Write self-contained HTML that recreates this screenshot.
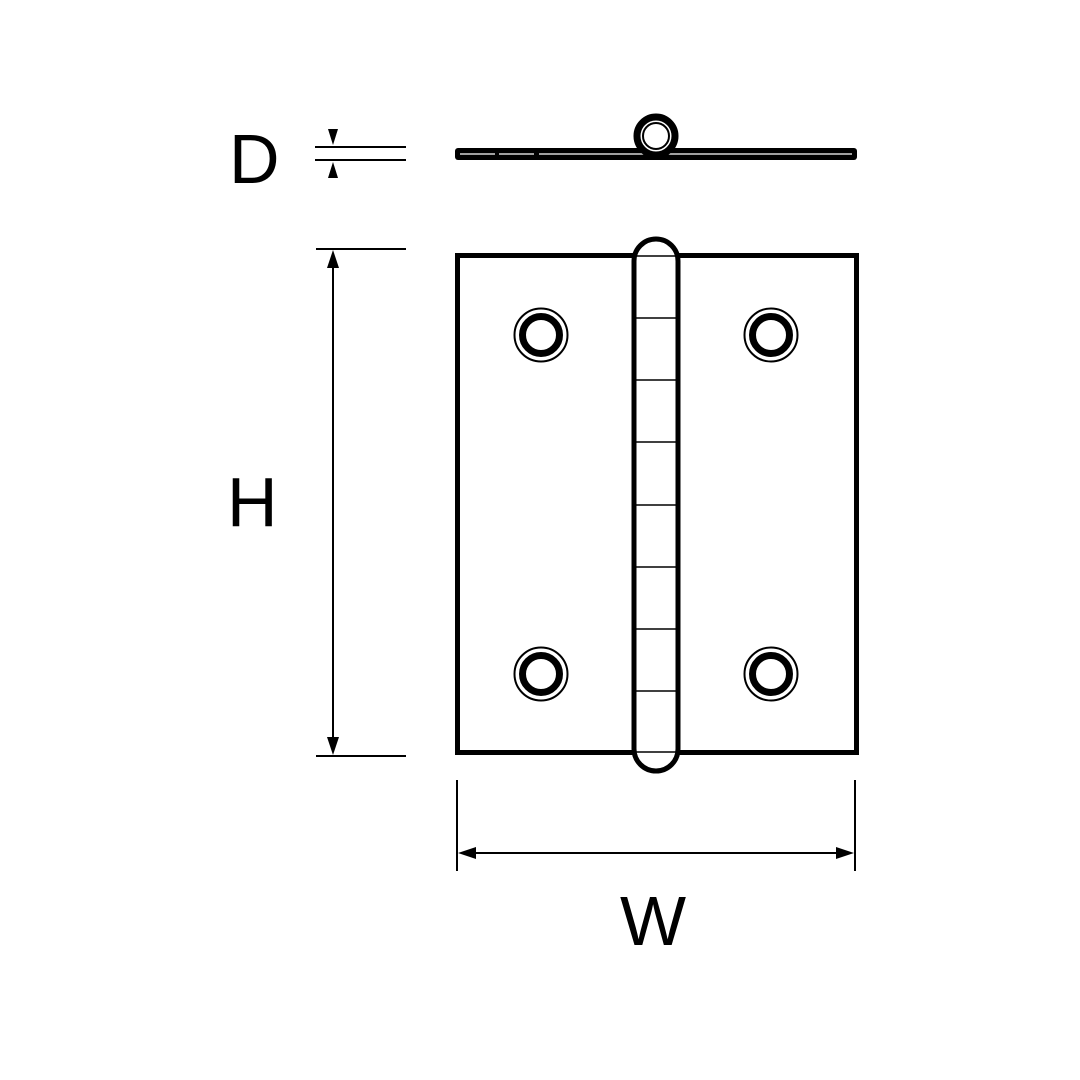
<!DOCTYPE html>
<html><head><meta charset="utf-8"><style>
html,body{margin:0;padding:0;background:#fff;}
svg{display:block;}
text{font-family:"Liberation Sans",sans-serif;font-size:70px;fill:#000;}
</style></head><body>
<svg width="1080" height="1080" viewBox="0 0 1080 1080" xmlns="http://www.w3.org/2000/svg">
<rect width="1080" height="1080" fill="#fff"/>
<text x="229" y="183">D</text>
<text x="227" y="526">H</text>
<text x="620" y="945">W</text>
<g stroke="#000" stroke-width="2" fill="none">
<line x1="315" y1="147" x2="406" y2="147"/>
<line x1="315" y1="160" x2="406" y2="160"/>
</g>
<polygon points="328,129 338,129 333,145" fill="#000"/>
<polygon points="328,178 338,178 333,162" fill="#000"/>
<rect x="455" y="148" width="402" height="12" rx="3" fill="#000"/>
<line x1="460" y1="154" x2="852" y2="154" stroke="#fff" stroke-width="1.3"/>
<line x1="495" y1="154" x2="499" y2="154" stroke="#000" stroke-width="3"/>
<line x1="534" y1="154" x2="539" y2="154" stroke="#000" stroke-width="3"/>
<circle cx="656" cy="136" r="19" fill="#fff" stroke="#000" stroke-width="7"/>
<circle cx="656" cy="136" r="13" fill="none" stroke="#000" stroke-width="2"/>
<g stroke="#000" stroke-width="2" fill="none">
<line x1="316" y1="249" x2="406" y2="249"/>
<line x1="316" y1="756" x2="406" y2="756"/>
<line x1="333" y1="262" x2="333" y2="743"/>
</g>
<polygon points="333,250 327,268 339,268" fill="#000"/>
<polygon points="333,755 327,737 339,737" fill="#000"/>
<rect x="457.5" y="255.5" width="399" height="497" fill="none" stroke="#000" stroke-width="5"/>
<rect x="634" y="239" width="44" height="532" rx="22" ry="22" fill="#fff" stroke="#000" stroke-width="5"/>
<g stroke="#000" stroke-width="1.5">
<line x1="636" y1="256" x2="676" y2="256"/>
<line x1="636" y1="318" x2="676" y2="318"/>
<line x1="636" y1="380" x2="676" y2="380"/>
<line x1="636" y1="442" x2="676" y2="442"/>
<line x1="636" y1="505" x2="676" y2="505"/>
<line x1="636" y1="567" x2="676" y2="567"/>
<line x1="636" y1="629" x2="676" y2="629"/>
<line x1="636" y1="691" x2="676" y2="691"/>
<line x1="636" y1="752" x2="676" y2="752"/>
</g>
<g fill="none" stroke="#000">
<circle cx="541" cy="335" r="26.5" stroke-width="2"/>
<circle cx="541" cy="335" r="18.5" stroke-width="7"/>
<circle cx="771" cy="335" r="26.5" stroke-width="2"/>
<circle cx="771" cy="335" r="18.5" stroke-width="7"/>
<circle cx="541" cy="674" r="26.5" stroke-width="2"/>
<circle cx="541" cy="674" r="18.5" stroke-width="7"/>
<circle cx="771" cy="674" r="26.5" stroke-width="2"/>
<circle cx="771" cy="674" r="18.5" stroke-width="7"/>
</g>
<g stroke="#000" stroke-width="2" fill="none">
<line x1="457" y1="780" x2="457" y2="871"/>
<line x1="855" y1="780" x2="855" y2="871"/>
<line x1="470" y1="853" x2="842" y2="853"/>
</g>
<polygon points="458,853 476,847 476,859" fill="#000"/>
<polygon points="854,853 836,847 836,859" fill="#000"/>
</svg>
</body></html>
